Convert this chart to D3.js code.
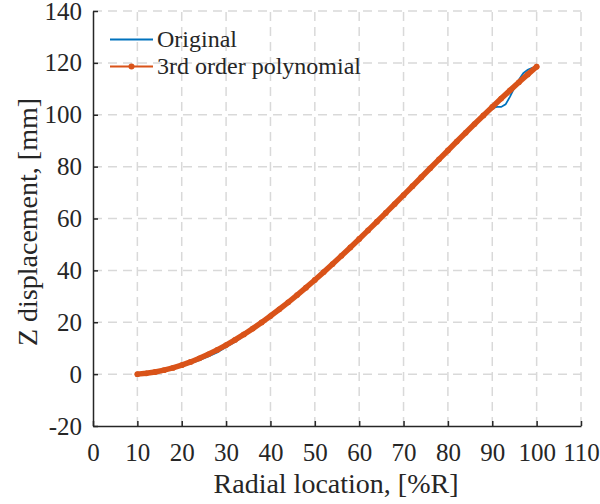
<!DOCTYPE html>
<html><head><meta charset="utf-8">
<script src="https://cdn.jsdelivr.net/npm/d3@7"></script>
<style>body{margin:0;background:#fff}svg{display:block}text{font-family:"Liberation Serif","Times New Roman",Times,serif !important;fill:#262626}</style>
</head><body><svg id="c" width="600" height="504"></svg>
<script>
const xTicks = [0,10,20,30,40,50,60,70,80,90,100,110];
const yTicks = [-20,0,20,40,60,80,100,120,140];
const origX = [10,12,14,16,18,20,22,24,26,28,30,32,34,36,38,40,42,44,46,48,50,52,54,56,58,60,62,64,66,68,70,72,74,76,78,80,82,84,86,88,89,90,91,92,93,94,95,96,97,98,99,100];
const origY = [0,0.25,0.7,1.3,2.1,3.0,4.1,5.4,6.8,8.4,10.5,12.4,14.7,17.0,19.6,22.3,25.0,27.7,30.5,33.3,36.3,39.3,42.4,45.6,48.8,52.1,55.4,58.8,62.2,65.6,69.0,72.4,75.9,79.4,82.8,86.2,89.7,93.0,96.4,99.7,101.3,102.4,103.0,103.0,104.0,107.0,110.5,113.5,116.0,117.3,118.1,118.5];
const polyX = [10,12,14,16,18,20,22,24,26,28,30,32,34,36,38,40,42,44,46,48,50,52,54,56,58,60,62,64,66,68,70,72,74,76,78,80,82,84,86,88,90,92,94,96,98,100];
const polyY = [0,0.31,0.82,1.52,2.40,3.46,4.69,6.09,7.64,9.34,11.19,13.18,15.30,17.55,19.92,22.40,25.00,27.68,30.47,33.34,36.30,39.33,42.44,45.60,48.82,52.10,55.42,58.77,62.16,65.57,69.01,72.45,75.91,79.36,82.81,86.24,89.66,93.05,96.41,99.73,102.99,106.23,109.40,112.51,115.55,118.51];
const seriesNames = ["Original","3rd order polynomial"];
const colors = ["#0072BD","#D95319"];

const svg = d3.select("#c");
const L=93, R=581, T=11, B=426;
const x = d3.scaleLinear().domain([0,110]).range([L,R]);
const y = d3.scaleLinear().domain([-20,140]).range([B,T]);

const grid = svg.append("g").attr("stroke","#d9d9d9").attr("stroke-width",1.5).attr("stroke-dasharray","9,6");
xTicks.slice(1).forEach(t=>grid.append("line").attr("x1",x(t)).attr("x2",x(t)).attr("y1",B).attr("y2",T));
yTicks.slice(1).forEach(t=>grid.append("line").attr("y1",y(t)).attr("y2",y(t)).attr("x1",L).attr("x2",R));

const fmt = d=>String(d);
const xa = svg.append("g").attr("transform",`translate(0,${B})`)
  .call(d3.axisBottom(x).tickValues(xTicks).tickFormat(fmt).tickSizeInner(-5).tickSizeOuter(0).tickPadding(17));
const ya = svg.append("g").attr("transform",`translate(${L},0)`)
  .call(d3.axisLeft(y).tickValues(yTicks).tickFormat(fmt).tickSizeInner(-5).tickSizeOuter(0).tickPadding(11));
[xa,ya].forEach(a=>{
  a.attr("font-family",null).attr("font-size",null);
  a.select(".domain").attr("stroke","#262626").attr("stroke-width",1.5);
  a.selectAll(".tick line").attr("stroke","#262626").attr("stroke-width",1.5);
  a.selectAll("text").style("font-size","25px").attr("fill","#262626");
});

const line = d3.line().x(d=>x(d[0])).y(d=>y(d[1]));
svg.append("path").datum(origX.map((v,i)=>[v,origY[i]])).attr("d",line)
  .attr("fill","none").attr("stroke",colors[0]).attr("stroke-width",1.8);
const pd = polyX.map((v,i)=>[v,polyY[i]]);
svg.append("path").datum(pd).attr("d",line)
  .attr("fill","none").attr("stroke",colors[1]).attr("stroke-width",5.5).attr("stroke-linecap","round");
svg.append("g").selectAll("circle").data(pd).join("circle")
  .attr("cx",d=>x(d[0])).attr("cy",d=>y(d[1])).attr("r",2.9).attr("fill",colors[1]);

svg.append("text").attr("x",336).attr("y",493).attr("text-anchor","middle").style("font-size","28px").text("Radial location, [%R]");
svg.append("text").attr("transform",`translate(37,222) rotate(-90)`).attr("text-anchor","middle").style("font-size","28px").text("Z displacement, [mm]");

const lg = svg.append("g");
[39.5,66.5].forEach((ly,i)=>{
  lg.append("line").attr("x1",110).attr("x2",153).attr("y1",ly).attr("y2",ly).attr("stroke",colors[i]).attr("stroke-width",i?2:1.8);
  if(i) lg.append("circle").attr("cx",131.5).attr("cy",ly).attr("r",3).attr("fill",colors[i]);
  lg.append("text").attr("x",157).attr("y",ly+7.5).style("font-size","24px").text(seriesNames[i]);
});
</script></body></html>
